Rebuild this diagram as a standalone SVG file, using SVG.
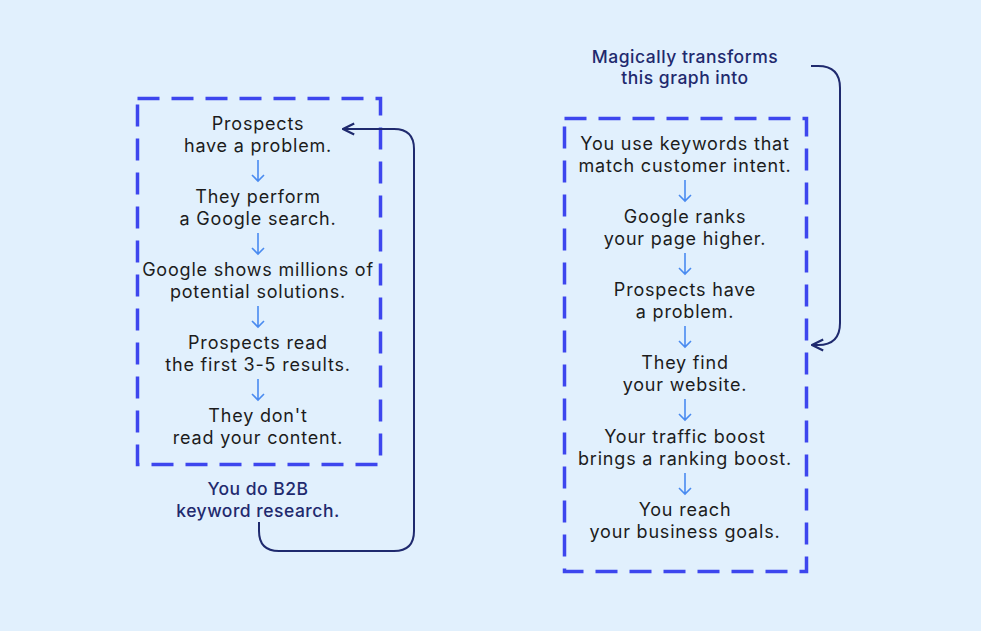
<svg xmlns="http://www.w3.org/2000/svg" width="981" height="631" viewBox="0 0 981 631">
<style>
.box{fill:none;stroke:#3D46EE;stroke-width:3.5;stroke-dasharray:22 12}
.t{font-family:Inter,"Liberation Sans",sans-serif;font-size:18px;letter-spacing:0.8px;fill:#1c1c1c;text-anchor:middle}
.l{font-family:Inter,"Liberation Sans",sans-serif;font-size:17.5px;letter-spacing:0.5px;font-weight:500;fill:#1F2A6E;text-anchor:middle}
.a{stroke:#4A8BF0;stroke-width:1.6;fill:none}
.c{stroke:#1F2A6E;stroke-width:2;fill:none}
</style>
<defs>
<marker id="ah" viewBox="0 0 10 10" refX="9" refY="5" markerWidth="14" markerHeight="14" markerUnits="userSpaceOnUse" orient="auto"><path d="M1 1 L9 5 L1 9" fill="none" stroke="#1F2A6E" stroke-width="1.6"/></marker>
<g id="dn"><path class="a" d="M0 0 V21 M-6 15 L0 21 L6 15"/></g>
</defs>
<rect width="981" height="631" fill="#E1F0FD"/>
<g id="left">
<rect class="box" x="137.5" y="98.5" width="243" height="366"/>
<text class="t" x="258" y="130">Prospects</text><text class="t" x="258" y="152">have a problem.</text>
<text class="t" x="258" y="203">They perform</text><text class="t" x="258" y="225">a Google search.</text>
<text class="t" x="258" y="276">Google shows millions of</text><text class="t" x="258" y="298">potential solutions.</text>
<text class="t" x="258" y="349">Prospects read</text><text class="t" x="258" y="371">the first 3-5 results.</text>
<text class="t" x="258" y="422">They don't</text><text class="t" x="258" y="444">read your content.</text>
<use href="#dn" x="258" y="160"/><use href="#dn" x="258" y="233"/><use href="#dn" x="258" y="306"/><use href="#dn" x="258" y="379"/>
</g>
<g id="right">
<rect class="box" x="564.5" y="118.5" width="242" height="453"/>
<text class="t" x="685" y="150">You use keywords that</text><text class="t" x="685" y="172">match customer intent.</text>
<text class="t" x="685" y="223">Google ranks</text><text class="t" x="685" y="245">your page higher.</text>
<text class="t" x="685" y="296">Prospects have</text><text class="t" x="685" y="318">a problem.</text>
<text class="t" x="685" y="369">They find</text><text class="t" x="685" y="391">your website.</text>
<text class="t" x="685" y="443">Your traffic boost</text><text class="t" x="685" y="465">brings a ranking boost.</text>
<text class="t" x="685" y="516">You reach</text><text class="t" x="685" y="538">your business goals.</text>
<use href="#dn" x="685" y="180"/><use href="#dn" x="685" y="253"/><use href="#dn" x="685" y="326"/><use href="#dn" x="685" y="399"/><use href="#dn" x="685" y="473"/>
</g>
<g id="label-left"><text class="l" x="258" y="495">You do B2B</text><text class="l" x="258" y="517">keyword research.</text></g>
<g id="label-right"><text class="l" x="685" y="63">Magically transforms</text><text class="l" x="685" y="84">this graph into</text></g>
<g id="connectors">
<path class="c" marker-end="url(#ah)" d="M259 522 V531 Q259 551 279 551 H394 Q414 551 414 531 V149 Q414 129 394 129 H343"/>
<path class="c" marker-end="url(#ah)" d="M811 66 H818 Q840 66 840 88 V323 Q840 345 818 345 H812"/>
</g>
</svg>
